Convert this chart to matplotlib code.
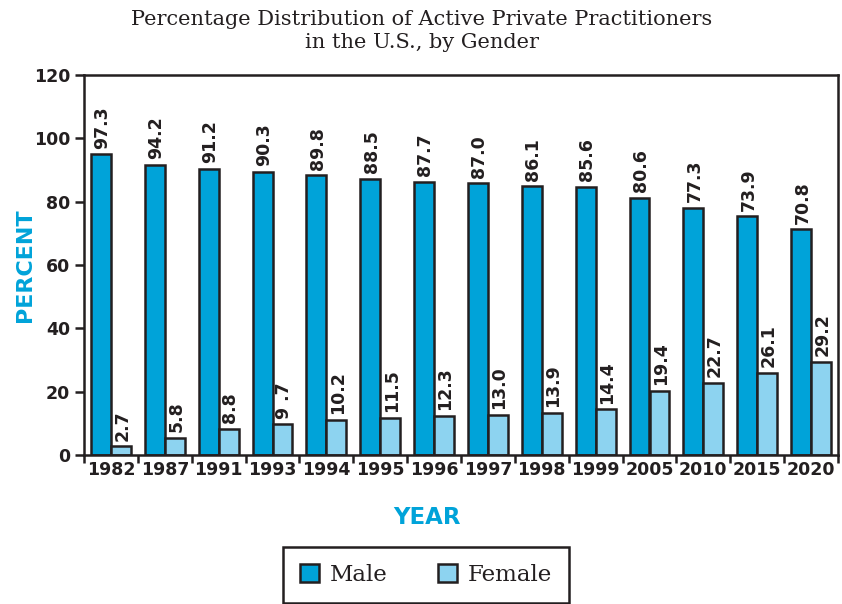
import numpy as np
import matplotlib
matplotlib.use('Agg')
import matplotlib.pyplot as plt
from matplotlib.patches import Patch

years = ['1982', '1987', '1991', '1993', '1994', '1995', '1996',
         '1997', '1998', '1999', '2005', '2010', '2015', '2020']
# printed values
male_labels = ['97.3', '94.2', '91.2', '90.3', '89.8', '88.5', '87.7',
               '87.0', '86.1', '85.6', '80.6', '77.3', '73.9', '70.8']
female_labels = ['2.7', '5.8', '8.8', '9 .7', '10.2', '11.5', '12.3',
                 '13.0', '13.9', '14.4', '19.4', '22.7', '26.1', '29.2']
# bar heights as drawn in the picture
male_bar = [95.0, 91.6, 90.3, 89.4, 88.3, 87.2, 86.2,
            85.8, 84.8, 84.7, 81.3, 78.1, 75.4, 71.3]
female_bar = [2.8, 5.5, 8.2, 9.7, 11.1, 11.8, 12.3,
              12.7, 13.4, 14.4, 20.2, 22.8, 26.0, 29.5]
yticks = [0, 20, 40, 60, 80, 100, 120]

MALE = '#00a3d9'
FEMALE = '#8dd3f0'
DARK = '#231f20'
CYAN = '#00a3d9'
SANS = ['DejaVu Sans']
SERIF = ['DejaVu Serif']

fig = plt.figure(figsize=(8.42, 6.04), dpi=100)
ax = fig.add_axes([84/842, 149/604, 754/842, 380/604])

x = np.arange(len(years))
w = 0.37
mb = ax.bar(x - w/2, male_bar, w, color=MALE, edgecolor=DARK, linewidth=1.8)
fb = ax.bar(x + w/2, female_bar, w, color=FEMALE, edgecolor=DARK, linewidth=1.8)

for bars, labs in ((mb, male_labels), (fb, female_labels)):
    for b, t in zip(bars, labs):
        ax.annotate(t, (b.get_x() + b.get_width()/2, b.get_height()),
                    xytext=(1, 4), textcoords='offset points',
                    rotation=90, ha='center', va='bottom',
                    fontsize=12.5, fontweight='bold', color=DARK, family=SANS)

ax.set_xlim(-0.5, 13.5)
ax.set_ylim(0, 120)
ax.set_yticks(yticks)
ax.set_xticks(x)
ax.set_xticklabels(years)
ax.set_xticks(np.arange(-0.5, 13.6, 1), minor=True)
ax.tick_params(axis='x', which='major', length=0, pad=4)
ax.tick_params(axis='x', which='minor', length=6, width=1.8, color=DARK, direction='out')
ax.tick_params(axis='y', length=6.5, width=1.8, color=DARK, pad=3.5)
for lab in ax.get_xticklabels():
    lab.set_fontsize(12.5)
    lab.set_fontweight('bold')
    lab.set_family(SANS)
    lab.set_color(DARK)
for lab in ax.get_yticklabels():
    lab.set_fontsize(12.5)
    lab.set_fontweight('bold')
    lab.set_family(SANS)
    lab.set_color(DARK)
for s in ax.spines.values():
    s.set_linewidth(1.8)
    s.set_color(DARK)

fig.text(25/842, 1 - 265/604, 'PERCENT', rotation=90, ha='center', va='center',
         fontsize=16, fontweight='bold', color=CYAN, family=SANS)
fig.text(427/842, 1 - 517/604, 'YEAR', ha='center', va='center',
         fontsize=16.5, fontweight='bold', color=CYAN, family=SANS)
fig.text(422/842, 1 - 31/604,
         'Percentage Distribution of Active Private Practitioners\nin the U.S., by Gender',
         ha='center', va='center', fontsize=15, color=DARK, family=SERIF,
         linespacing=1.3)

handles = [Patch(facecolor=MALE, edgecolor=DARK, linewidth=1.8),
           Patch(facecolor=FEMALE, edgecolor=DARK, linewidth=1.8)]
leg = fig.legend(handles, ['Male', 'Female'], loc='center',
                 bbox_to_anchor=(426/842, 1 - 575/604), ncol=2,
                 prop={'family': SERIF, 'size': 16.5}, frameon=True,
                 fancybox=False, framealpha=1, handlelength=0.85,
                 handleheight=0.85, handletextpad=0.45, columnspacing=2.2,
                 borderpad=0.75, labelcolor=DARK)
leg.get_frame().set_edgecolor(DARK)
leg.get_frame().set_linewidth(1.8)

fig.savefig('out.png', dpi=100)
